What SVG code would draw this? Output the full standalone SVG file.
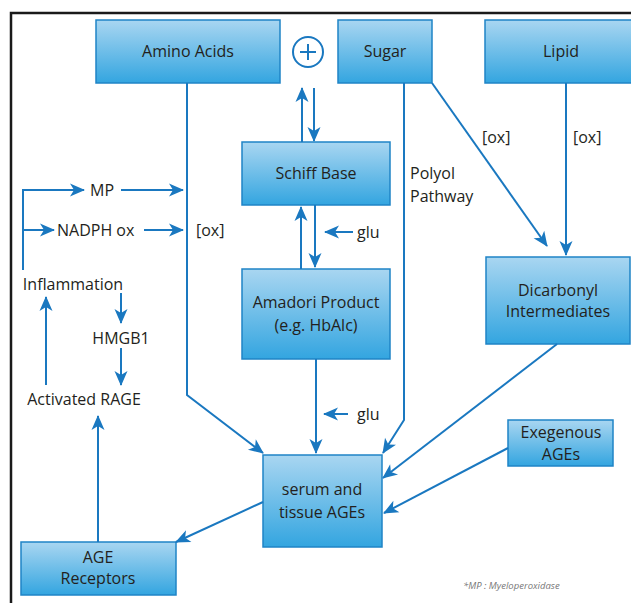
<svg xmlns="http://www.w3.org/2000/svg" width="631" height="603" viewBox="0 0 631 603">
<defs>
<linearGradient id="g" x1="0" y1="0" x2="0" y2="1">
<stop offset="0" stop-color="#a9d6f1"/>
<stop offset="1" stop-color="#33a5e0"/>
</linearGradient>
<marker id="ah" markerUnits="userSpaceOnUse" viewBox="-15 -8 16 16" refX="0" refY="0" markerWidth="16" markerHeight="16" orient="auto">
<path d="M1,0 L-14,-6.5 L-10,0 L-14,6.5 Z" fill="#1a78c0"/>
</marker>
<style>
.box{fill:url(#g);stroke:#1f84c6;stroke-width:1.5}
.t{font-family:"Open Sans","Liberation Sans",sans-serif;font-size:16px;fill:#231f20}
.c{text-anchor:middle}
.ln{fill:none;stroke:#1a78c0;stroke-width:2}
.a{marker-end:url(#ah)}
</style>
</defs>
<rect width="631" height="603" fill="#fff"/>
<path d="M11,606 V13 H634" fill="none" stroke="#1a1a1a" stroke-width="2.5"/>

<g id="amino"><rect class="box" x="96" y="20" width="184" height="63"/><text class="t c" x="188" y="57">Amino Acids</text></g>
<g id="plus"><circle cx="308" cy="52" r="15" fill="#fff" stroke="#1a78c0" stroke-width="2"/><path d="M300,52 H316 M308,44 V60" stroke="#1a78c0" stroke-width="2"/></g>
<g id="sugar"><rect class="box" x="338" y="20" width="94" height="63"/><text class="t c" x="385" y="57">Sugar</text></g>
<g id="lipid"><rect class="box" x="485" y="20" width="170" height="63"/><text class="t c" x="561" y="57">Lipid</text></g>
<g id="schiff"><rect class="box" x="242" y="142" width="148" height="63"/><text class="t c" x="316" y="179">Schiff Base</text></g>
<g id="amadori"><rect class="box" x="242" y="269" width="148" height="90"/><text class="t c" x="316" y="308">Amadori Product</text><text class="t c" x="316" y="331">(e.g. HbAlc)</text></g>
<g id="dicarbonyl"><rect class="box" x="486" y="257" width="144" height="87"/><text class="t c" x="558" y="296">Dicarbonyl</text><text class="t c" x="558" y="317">Intermediates</text></g>
<g id="serum"><rect class="box" x="263" y="455" width="119" height="92"/><text class="t c" x="322" y="495">serum and</text><text class="t c" x="322" y="518">tissue AGEs</text></g>
<g id="exegenous"><rect class="box" x="508" y="420" width="105" height="46"/><text class="t c" x="561" y="438">Exegenous</text><text class="t c" x="561" y="460">AGEs</text></g>
<g id="receptors"><rect class="box" x="21" y="542" width="155" height="53"/><text class="t c" x="98" y="563">AGE</text><text class="t c" x="98" y="584">Receptors</text></g>

<g id="labels">
<text class="t" x="90" y="196">MP</text>
<text class="t" x="57" y="236">NADPH ox</text>
<text class="t" x="196" y="236">[ox]</text>
<text class="t c" x="73" y="290">Inflammation</text>
<text class="t c" x="121" y="344">HMGB1</text>
<text class="t c" x="84" y="405">Activated RAGE</text>
<text class="t" x="410" y="179">Polyol</text>
<text class="t" x="410" y="202">Pathway</text>
<text class="t" x="482" y="143">[ox]</text>
<text class="t" x="573" y="143">[ox]</text>
<text class="t" x="357" y="238">glu</text>
<text class="t" x="357" y="420">glu</text>
<text x="463" y="589" font-family="'Open Sans','Liberation Sans',sans-serif" font-size="9.5" font-style="italic" fill="#777">*MP : Myeloperoxidase</text>
</g>

<g id="connectors">
<path class="ln a" d="M23,270 V190 H84"/>
<path class="ln a" d="M23,230 H54"/>
<path class="ln a" d="M121,190 H183"/>
<path class="ln a" d="M144,230 H183"/>
<path class="ln a" d="M187,83 V395 L263,453"/>
<path class="ln a" d="M46,385 V297"/>
<path class="ln a" d="M121,293 V323"/>
<path class="ln a" d="M121,348 V385"/>
<path class="ln a" d="M98,542 V416"/>
<path class="ln a" d="M263,502 L176,542"/>
<path class="ln a" d="M302,142 V88"/>
<path class="ln a" d="M314,88 V141"/>
<path class="ln a" d="M301,269 V207"/>
<path class="ln a" d="M315,205 V267"/>
<path class="ln a" d="M353,232 H325"/>
<path class="ln a" d="M316,359 V453"/>
<path class="ln a" d="M348,414 H324"/>
<path class="ln a" d="M404,83 V420 L383,453"/>
<path class="ln a" d="M432,83 L547,246"/>
<path class="ln a" d="M566,83 V255"/>
<path class="ln a" d="M557,344 L383,478"/>
<path class="ln a" d="M508,448 L384,513"/>
</g>
</svg>
